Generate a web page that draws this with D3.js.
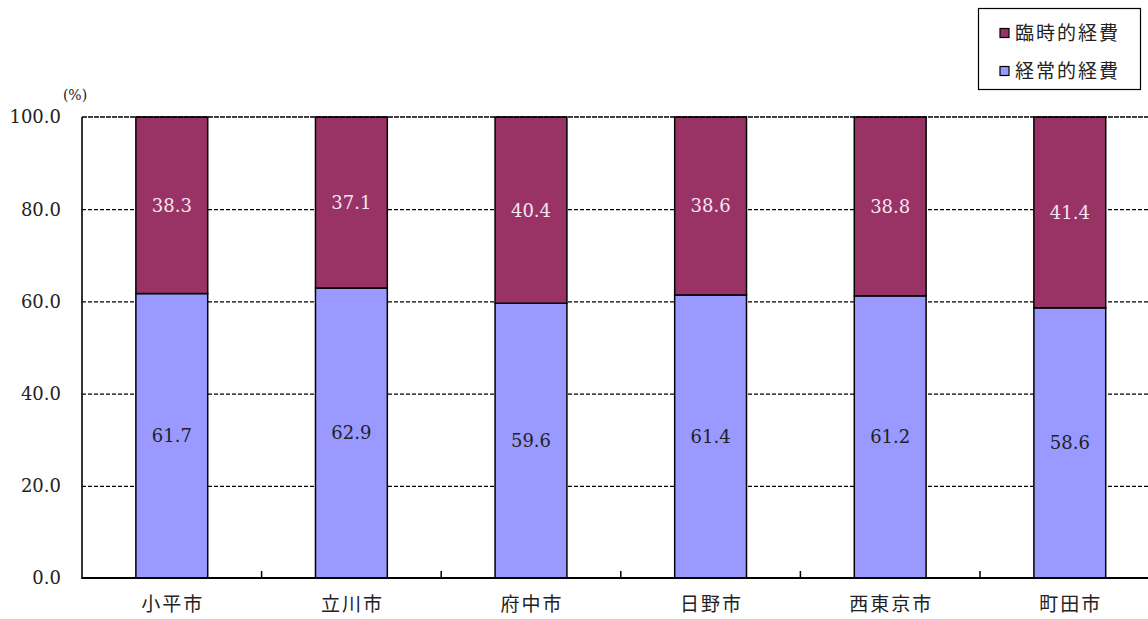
<!DOCTYPE html>
<html>
<head>
<meta charset="utf-8">
<script src="https://cdn.jsdelivr.net/npm/d3@7"></script>
<style>
  html, body { margin: 0; padding: 0; background: #fff; }
  svg { display: block; }
</style>
</head>
<body>
<svg id="chart" width="1148" height="619"></svg>
<script>
// Cities and expense shares (%)
const cities = ["小平市", "立川市", "府中市", "日野市", "西東京市", "町田市"];
const recurring = [61.7, 62.9, 59.6, 61.4, 61.2, 58.6];   // 経常的経費
const temporary = [38.3, 37.1, 40.4, 38.6, 38.8, 41.4];   // 臨時的経費
const yTicks = [0, 20, 40, 60, 80, 100];
const seriesNames = ["臨時的経費", "経常的経費"];

const numFont = "'DejaVu Serif', 'Liberation Serif', serif";
const cjkFont = "'Noto Sans CJK JP', 'Noto Sans CJK SC', sans-serif";
const colRecurring = "#9999ff";
const colTemporary = "#993366";

const svg = d3.select("#chart");
const plotLeft = 82, plotTop = 117, plotBottom = 578;
const bandW = 179.6;

const x = d3.scaleBand()
  .domain(cities)
  .range([plotLeft, plotLeft + bandW * cities.length])
  .paddingInner(0.6)
  .paddingOuter(0.3);

const y = d3.scaleLinear().domain([0, 100]).range([plotBottom, plotTop]);

// dashed gridlines
svg.append("g")
  .selectAll("line")
  .data(yTicks.filter(d => d > 0 && d < 100))
  .join("line")
  .attr("x1", plotLeft).attr("x2", 1148)
  .attr("y1", d => y(d) + 0.5).attr("y2", d => y(d) + 0.5)
  .attr("stroke", "#000")
  .attr("stroke-width", 1.2)
  .attr("stroke-dasharray", "4,2");

// y tick labels
svg.append("g")
  .selectAll("text")
  .data(yTicks)
  .join("text")
  .attr("x", 61)
  .attr("y", d => y(d))
  .attr("dy", "0.36em")
  .attr("text-anchor", "end")
  .style("font-family", numFont)
  .style("font-size", "18px")
  .attr("fill", "#222")
  .text(d => d.toFixed(1));

// unit label
svg.append("text")
  .attr("x", 75).attr("y", 100)
  .attr("text-anchor", "middle")
  .style("font-family", numFont)
  .style("font-size", "14px")
  .attr("fill", "#222")
  .text("(%)");

const rows = cities.map((c, i) => ({ city: c, rec: recurring[i], tmp: temporary[i] }));

// recurring (bottom) segments
svg.append("g")
  .selectAll("rect")
  .data(rows)
  .join("rect")
  .attr("x", d => x(d.city))
  .attr("width", x.bandwidth())
  .attr("y", d => y(d.rec))
  .attr("height", d => y(0) - y(d.rec))
  .attr("fill", colRecurring)
  .attr("stroke", "#000")
  .attr("stroke-width", 1.5);

// temporary (top) segments
svg.append("g")
  .selectAll("rect")
  .data(rows)
  .join("rect")
  .attr("x", d => x(d.city))
  .attr("width", x.bandwidth())
  .attr("y", d => y(d.rec + d.tmp))
  .attr("height", d => y(d.rec) - y(d.rec + d.tmp))
  .attr("fill", colTemporary)
  .attr("stroke", "#000")
  .attr("stroke-width", 1.5);

// value labels
svg.append("g")
  .selectAll("text")
  .data(rows)
  .join("text")
  .attr("x", d => x(d.city) + x.bandwidth() / 2)
  .attr("y", d => y(d.rec / 2))
  .attr("dy", "0.36em")
  .attr("text-anchor", "middle")
  .style("font-family", numFont)
  .style("font-size", "18px")
  .attr("fill", "#222")
  .text(d => d.rec.toFixed(1));

svg.append("g")
  .selectAll("text")
  .data(rows)
  .join("text")
  .attr("x", d => x(d.city) + x.bandwidth() / 2)
  .attr("y", d => y(d.rec + d.tmp / 2))
  .attr("dy", "0.36em")
  .attr("text-anchor", "middle")
  .style("font-family", numFont)
  .style("font-size", "18px")
  .attr("fill", "#f4e6f0")
  .text(d => d.tmp.toFixed(1));

// top border at 100%
svg.append("line")
  .attr("x1", plotLeft).attr("x2", 1148)
  .attr("y1", plotTop).attr("y2", plotTop)
  .attr("stroke", "#000")
  .attr("stroke-width", 1.6)
  .attr("stroke-dasharray", "5,1");

// left axis
svg.append("line")
  .attr("x1", plotLeft).attr("x2", plotLeft)
  .attr("y1", plotTop).attr("y2", plotBottom + 1)
  .attr("stroke", "#000")
  .attr("stroke-width", 1.6);

// bottom axis with category labels and inward ticks at band boundaries
const xAxis = svg.append("g")
  .attr("transform", `translate(1,${plotBottom})`)
  .call(d3.axisBottom(x).tickSize(0).tickPadding(20));
xAxis.select(".domain").remove();
xAxis.selectAll("text")
  .style("font-family", cjkFont)
  .style("font-size", "19px")
  .style("letter-spacing", "2px")
  .attr("fill", "#222");

svg.append("line")
  .attr("x1", plotLeft).attr("x2", 1148)
  .attr("y1", plotBottom).attr("y2", plotBottom)
  .attr("stroke", "#000")
  .attr("stroke-width", 2);

svg.append("g")
  .selectAll("line")
  .data(d3.range(1, cities.length + 1))
  .join("line")
  .attr("x1", i => plotLeft + i * bandW).attr("x2", i => plotLeft + i * bandW)
  .attr("y1", plotBottom).attr("y2", plotBottom - 7)
  .attr("stroke", "#000")
  .attr("stroke-width", 1.5);

// legend
const legend = svg.append("g");
legend.append("rect")
  .attr("x", 978.5).attr("y", 8.5)
  .attr("width", 162).attr("height", 81)
  .attr("fill", "#fff")
  .attr("stroke", "#000")
  .attr("stroke-width", 1.2);

const legendColors = [colTemporary, colRecurring];
const item = legend.selectAll("g.item")
  .data(seriesNames)
  .join("g")
  .attr("class", "item")
  .attr("transform", (d, i) => `translate(1000, ${33 + i * 38})`);
item.append("rect")
  .attr("x", 0).attr("y", -4.5)
  .attr("width", 9).attr("height", 9)
  .attr("fill", (d, i) => legendColors[i])
  .attr("stroke", "#000")
  .attr("stroke-width", 1.2);
item.append("text")
  .attr("x", 15).attr("y", 0)
  .attr("dy", "0.36em")
  .style("font-family", cjkFont)
  .style("font-size", "19px")
  .style("letter-spacing", "2px")
  .attr("fill", "#222")
  .text(d => d);
</script>
</body>
</html>
